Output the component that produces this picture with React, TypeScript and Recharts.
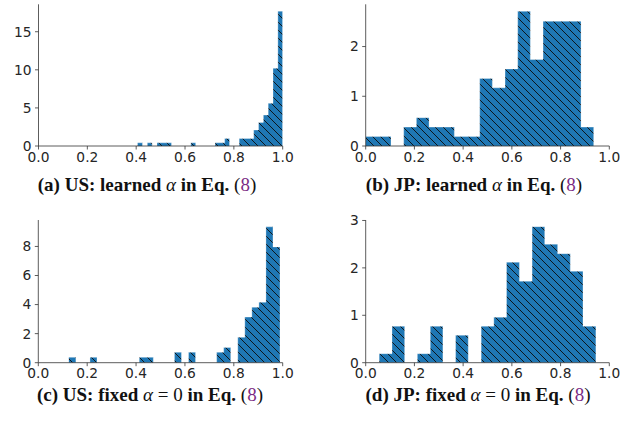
import React from 'react';
import { ComposedChart, Area, XAxis, YAxis } from 'recharts';

// bin left edges (last entry is the right edge of the last bin) and densities
const usLearnedEdges = [
  0.406, 0.4258, 0.4456, 0.4654, 0.4852, 0.505, 0.5248, 0.5446, 0.5644, 0.5842,
  0.604, 0.6238, 0.6436, 0.6634, 0.6832, 0.703, 0.7228, 0.7426, 0.7624, 0.7822,
  0.802, 0.8218, 0.8416, 0.8614, 0.8812, 0.901, 0.9208, 0.9406, 0.9604, 0.9802, 1.0,
];
const usLearnedDensity = [
  0.42, 0, 0.42, 0, 0.42, 0.42, 0.42, 0, 0, 0,
  0, 0.42, 0, 0, 0, 0, 0.42, 0.42, 0.98, 0,
  0, 0.98, 0.98, 0.98, 2.1, 3.1, 4.06, 5.6, 10.2, 17.7,
];

const jpLearnedEdges = [
  0, 0.052, 0.104, 0.156, 0.208, 0.26, 0.312, 0.364, 0.416, 0.468,
  0.52, 0.572, 0.624, 0.676, 0.728, 0.78, 0.832, 0.884, 0.936,
];
const jpLearnedDensity = [
  0.19, 0.19, 0, 0.38, 0.57, 0.38, 0.38, 0.19, 0.19, 1.36,
  1.17, 1.55, 2.71, 1.74, 2.51, 2.51, 2.51, 0.38,
];

const usFixedEdges = [
  0.125, 0.1538, 0.1826, 0.2114, 0.2402, 0.269, 0.2978, 0.3266, 0.3554, 0.3842,
  0.413, 0.4418, 0.4706, 0.4994, 0.5282, 0.557, 0.5858, 0.6146, 0.6434, 0.6722,
  0.701, 0.7298, 0.7586, 0.7874, 0.8162, 0.845, 0.8738, 0.9026, 0.9314, 0.9602, 0.989,
];
const usFixedDensity = [
  0.37, 0, 0, 0.37, 0, 0, 0, 0, 0, 0,
  0.37, 0.37, 0, 0, 0, 0.72, 0, 0.72, 0, 0,
  0, 0.72, 1.05, 0, 1.75, 3.14, 3.82, 4.16, 9.35, 7.97,
];

const jpFixedEdges = [
  0.056, 0.108, 0.16, 0.212, 0.265, 0.317, 0.369, 0.421, 0.474, 0.526,
  0.578, 0.631, 0.683, 0.735, 0.788, 0.84, 0.892, 0.945,
];
const jpFixedDensity = [
  0.19, 0.77, 0, 0.19, 0.77, 0, 0.58, 0, 0.77, 0.96,
  2.12, 1.72, 2.87, 2.5, 2.3, 1.93, 0.77,
];

const xTicks = [0, 0.2, 0.4, 0.6, 0.8, 1.0];

const tickStyle = { fontFamily: 'DejaVu Sans', fontSize: 13.8, fill: '#262626' };
const spine = '#333333';

type PanelProps = {
  id: string;
  edges: number[];
  density: number[];
  yMax: number;
  yTicks: number[];
  left: number;
  top: number;
  height: number;
  yWidth: number;
  marginTop: number;
  marginRight: number;
  xHeight: number;
};

function Panel(p: PanelProps) {
  const data = p.edges.map((x, i) => ({ x, y: i < p.density.length ? p.density[i] : 0 }));
  return (
    <div style={{ position: 'absolute', left: p.left, top: p.top }}>
      <ComposedChart
        width={316}
        height={p.height}
        data={data}
        margin={{ top: p.marginTop, right: p.marginRight, bottom: 0, left: 0 }}
      >
        <defs>
          <pattern id={p.id} patternUnits="userSpaceOnUse" width="8" height="8">
            <rect width="8" height="8" fill="#1f77b4" />
            <path d="M-2,-2 L10,10 M6,-2 L10,2 M-2,6 L2,10" stroke="#0b0b0b" strokeWidth="0.9" />
          </pattern>
        </defs>
        <XAxis
          xAxisId="b"
          dataKey="x"
          type="number"
          domain={[0, 1]}
          ticks={xTicks}
          interval={0}
          tickFormatter={(v: number) => v.toFixed(1)}
          tick={tickStyle}
          axisLine={{ stroke: spine, strokeWidth: 0.8 }}
          tickLine={{ stroke: spine, strokeWidth: 0.8 }}
          tickSize={3.5}
          tickMargin={2.5}
          height={p.xHeight}
          allowDataOverflow
        />
        <XAxis
          xAxisId="t"
          orientation="top"
          type="number"
          domain={[0, 1]}
          tick={false}
          tickLine={false}
          height={0}
          axisLine={{ stroke: spine, strokeWidth: 0.8 }}
        />
        <YAxis
          yAxisId="l"
          type="number"
          domain={[0, p.yMax]}
          ticks={p.yTicks}
          interval={0}
          tick={tickStyle}
          axisLine={{ stroke: spine, strokeWidth: 0.8 }}
          tickLine={{ stroke: spine, strokeWidth: 0.8 }}
          tickSize={3.5}
          tickMargin={3.5}
          width={p.yWidth}
          allowDataOverflow
        />
        <YAxis
          yAxisId="r"
          orientation="right"
          type="number"
          domain={[0, 1]}
          tick={false}
          tickLine={false}
          width={0}
          axisLine={{ stroke: spine, strokeWidth: 0.8 }}
        />
        <Area
          xAxisId="b"
          yAxisId="l"
          type="stepAfter"
          dataKey="y"
          fill={`url(#${p.id})`}
          fillOpacity={1}
          stroke="#ffffff"
          strokeOpacity={0.55}
          strokeWidth={0.6}
          dot={false}
          activeDot={false}
          isAnimationActive={false}
        />
      </ComposedChart>
    </div>
  );
}

const capStyle: React.CSSProperties = {
  position: 'absolute',
  width: 316,
  textAlign: 'center',
  fontFamily: 'Liberation Serif',
  fontSize: 19,
  fontWeight: 'bold',
  lineHeight: '22px',
  color: '#111',
  whiteSpace: 'nowrap',
};
const greek: React.CSSProperties = { fontStyle: 'italic', fontWeight: 'normal' };
const plain: React.CSSProperties = { fontWeight: 'normal' };
const ref: React.CSSProperties = { fontWeight: 'normal', color: '#7b2b84' };

function EqRef() {
  return (
    <>
      in Eq. <span style={plain}>(</span>
      <span style={ref}>8</span>
      <span style={plain}>)</span>
    </>
  );
}

export default function App() {
  return (
    <div style={{ position: 'absolute', left: 0, top: 0, width: 632, height: 423, background: '#fff' }}>
      <Panel id="hA" edges={usLearnedEdges} density={usLearnedDensity} yMax={18.6} yTicks={[0, 5, 10, 15]}
        left={0} top={0} height={170} yWidth={38.5} marginTop={4.3} marginRight={33.3} xHeight={24} />
      <Panel id="hB" edges={jpLearnedEdges} density={jpLearnedDensity} yMax={2.85} yTicks={[0, 1, 2]}
        left={316} top={0} height={170} yWidth={49.7} marginTop={4.3} marginRight={22.7} xHeight={24} />
      <Panel id="hC" edges={usFixedEdges} density={usFixedDensity} yMax={9.82} yTicks={[0, 2, 4, 6, 8]}
        left={0} top={210} height={177} yWidth={38.3} marginTop={10} marginRight={33.3} xHeight={24.3} />
      <Panel id="hD" edges={jpFixedEdges} density={jpFixedDensity} yMax={3.01} yTicks={[0, 1, 2, 3]}
        left={316} top={210} height={177} yWidth={49.7} marginTop={10} marginRight={22.7} xHeight={24.3} />

      <div style={{ ...capStyle, left: -11, top: 174 }}>
        (a) US: learned <span style={greek}>α</span> <EqRef />
      </div>
      <div style={{ ...capStyle, left: 316, top: 174 }}>
        (b) JP: learned <span style={greek}>α</span> <EqRef />
      </div>
      <div style={{ ...capStyle, left: -8, top: 384 }}>
        (c) US: fixed <span style={greek}>α</span><span style={plain}> = 0 </span><EqRef />
      </div>
      <div style={{ ...capStyle, left: 320, top: 384 }}>
        (d) JP: fixed <span style={greek}>α</span><span style={plain}> = 0 </span><EqRef />
      </div>
    </div>
  );
}
